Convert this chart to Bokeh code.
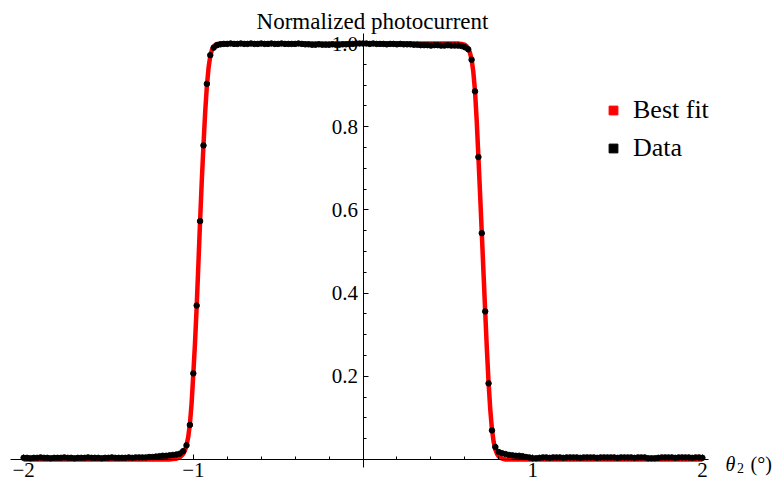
import math
from bokeh.plotting import figure
from bokeh.models import Range1d, LinearAxis, FixedTicker, Label, Legend, LegendItem
from bokeh.embed import file_html
from bokeh.resources import INLINE

# ---------------- data ----------------
angle_deg = [
    -2.00, -1.98, -1.96, -1.94, -1.92, -1.90, -1.88, -1.86, -1.84, -1.82,
    -1.80, -1.78, -1.76, -1.74, -1.72, -1.70, -1.68, -1.66, -1.64, -1.62,
    -1.60, -1.58, -1.56, -1.54, -1.52, -1.50, -1.48, -1.46, -1.44, -1.42,
    -1.40, -1.38, -1.36, -1.34, -1.32, -1.30, -1.28, -1.26, -1.24, -1.22,
    -1.20, -1.18, -1.16, -1.14, -1.12, -1.10, -1.08, -1.06, -1.04, -1.02,
    -1.00, -0.98, -0.96, -0.94, -0.92, -0.90, -0.88, -0.86, -0.84, -0.82,
    -0.80, -0.78, -0.76, -0.74, -0.72, -0.70, -0.68, -0.66, -0.64, -0.62,
    -0.60, -0.58, -0.56, -0.54, -0.52, -0.50, -0.48, -0.46, -0.44, -0.42,
    -0.40, -0.38, -0.36, -0.34, -0.32, -0.30, -0.28, -0.26, -0.24, -0.22,
    -0.20, -0.18, -0.16, -0.14, -0.12, -0.10, -0.08, -0.06, -0.04, -0.02,
    0.00, 0.02, 0.04, 0.06, 0.08, 0.10, 0.12, 0.14, 0.16, 0.18,
    0.20, 0.22, 0.24, 0.26, 0.28, 0.30, 0.32, 0.34, 0.36, 0.38,
    0.40, 0.42, 0.44, 0.46, 0.48, 0.50, 0.52, 0.54, 0.56, 0.58,
    0.60, 0.62, 0.64, 0.66, 0.68, 0.70, 0.72, 0.74, 0.76, 0.78,
    0.80, 0.82, 0.84, 0.86, 0.88, 0.90, 0.92, 0.94, 0.96, 0.98,
    1.00, 1.02, 1.04, 1.06, 1.08, 1.10, 1.12, 1.14, 1.16, 1.18,
    1.20, 1.22, 1.24, 1.26, 1.28, 1.30, 1.32, 1.34, 1.36, 1.38,
    1.40, 1.42, 1.44, 1.46, 1.48, 1.50, 1.52, 1.54, 1.56, 1.58,
    1.60, 1.62, 1.64, 1.66, 1.68, 1.70, 1.72, 1.74, 1.76, 1.78,
    1.80, 1.82, 1.84, 1.86, 1.88, 1.90, 1.92, 1.94, 1.96, 1.98,
    2.00,
]

photocurrent = [
    # -2.00 .. -1.32
    0.004, 0.004, 0.003, 0.004, 0.004, 0.005, 0.004, 0.004, 0.003, 0.004,
    0.004, 0.004, 0.005, 0.004, 0.004, 0.003, 0.004, 0.004, 0.004, 0.005,
    0.004, 0.004, 0.004, 0.003, 0.004, 0.004, 0.005, 0.004, 0.004, 0.004,
    0.004, 0.005, 0.004, 0.005, 0.005,
    # -1.30 .. -0.84
    0.005, 0.005, 0.006, 0.006, 0.007, 0.008, 0.009, 0.009, 0.010, 0.011,
    0.012, 0.014, 0.020, 0.034, 0.083, 0.207, 0.370, 0.573, 0.755, 0.903,
    0.972, 0.990, 0.996, 0.998,
    # -0.82 .. 0.56
    0.999, 0.999, 1.000, 0.999, 0.999, 1.000, 0.999, 0.999, 1.000, 0.999,
    0.999, 1.000, 0.999, 0.999, 1.000, 0.999, 0.999, 1.000, 0.999, 0.999,
    0.999, 0.999, 1.000, 0.999, 0.998, 0.998, 0.997, 0.997, 0.998, 0.997,
    0.997, 0.997, 0.998, 0.997, 0.997, 0.998, 0.998, 0.999, 0.999, 1.000,
    1.000, 1.000, 1.000, 0.999, 1.000, 0.999, 0.999, 0.999, 0.998, 0.999,
    0.999, 0.998, 0.999, 0.998, 0.998, 0.998, 0.997, 0.997, 0.996, 0.996,
    0.996, 0.995, 0.996, 0.996, 0.995, 0.995, 0.996, 0.995, 0.995, 0.995,
    # 0.58 .. 1.04
    0.994, 0.991, 0.986, 0.961, 0.885, 0.727, 0.544, 0.356, 0.183, 0.070,
    0.030, 0.018, 0.015, 0.013, 0.011, 0.010, 0.009, 0.009, 0.008, 0.006,
    0.005, 0.003, 0.003, 0.004,
    # 1.06 .. 2.00
    0.005, 0.005, 0.004, 0.005, 0.005, 0.005, 0.004, 0.005, 0.005, 0.005,
    0.005, 0.004, 0.005, 0.005, 0.005, 0.005, 0.004, 0.005, 0.005, 0.005,
    0.005, 0.005, 0.004, 0.005, 0.005, 0.005, 0.005, 0.004, 0.005, 0.005,
    0.005, 0.003, 0.003, 0.003, 0.004, 0.005, 0.005, 0.005, 0.005, 0.004,
    0.005, 0.005, 0.005, 0.005, 0.004, 0.005, 0.005, 0.004,
]

fit_x = [
    -2.00, -1.14, -1.12, -1.10, -1.08, -1.06, -1.05, -1.04, -1.03, -1.02,
    -1.01, -1.00, -0.99, -0.98, -0.97, -0.96, -0.95, -0.94, -0.93, -0.92,
    -0.91, -0.90, -0.89, -0.88, -0.87, -0.86, -0.84, -0.82, 0.54, 0.56,
    0.58, 0.60, 0.61, 0.62, 0.63, 0.64, 0.65, 0.66, 0.67, 0.68,
    0.69, 0.70, 0.71, 0.72, 0.73, 0.74, 0.75, 0.76, 0.77, 0.78,
    0.79, 0.80, 0.82, 0.84, 2.00,
]
fit_y = [
    0.000, 0.000, 0.001, 0.002, 0.005, 0.013, 0.021, 0.034, 0.054, 0.085,
    0.135, 0.205, 0.280, 0.368, 0.470, 0.573, 0.670, 0.756, 0.835, 0.898,
    0.942, 0.970, 0.985, 0.993, 0.997, 0.999, 1.000, 1.000, 1.000, 1.000,
    0.999, 0.997, 0.994, 0.988, 0.978, 0.962, 0.932, 0.886, 0.815, 0.728,
    0.638, 0.545, 0.450, 0.357, 0.265, 0.185, 0.120, 0.072, 0.042, 0.024,
    0.013, 0.007, 0.002, 0.000, 0.000,
]

x_major = [-2, -1, 1, 2]
x_major_labels = ["\u22122", "\u22121", "1", "2"]
x_minor = [-1.8, -1.6, -1.4, -1.2, -0.8, -0.6, -0.4, -0.2,
           0.2, 0.4, 0.6, 0.8, 1.2, 1.4, 1.6, 1.8]
y_major = [0.2, 0.4, 0.6, 0.8, 1.0]
y_major_labels = ["0.2", "0.4", "0.6", "0.8", "1.0"]
y_minor = [0.05, 0.1, 0.15, 0.25, 0.3, 0.35, 0.45, 0.5, 0.55,
           0.65, 0.7, 0.75, 0.85, 0.9, 0.95]

series_names = ["Best fit", "Data"]
title_text = "Normalized photocurrent"

# ---------------- layout ----------------
W, H = 778, 486
X0_PX, X_SCALE = 362.5, 169.7      # pixel of x=0, pixels per degree
Y0_PX, Y_SCALE = 459.0, 416.0      # pixel of y=0 (from top), pixels per unit
RED = "#ff0000"
AX = "#000000"
FONT = "Liberation Serif"

x_range = Range1d(-X0_PX / X_SCALE, (W - X0_PX) / X_SCALE)
y_range = Range1d(-(H - Y0_PX) / Y_SCALE, Y0_PX / Y_SCALE)

p = figure(width=W, height=H, x_range=x_range, y_range=y_range,
           x_axis_type=None, y_axis_type=None, toolbar_location=None,
           output_backend="svg", min_border=0, outline_line_color=None,
           background_fill_color="white", border_fill_color="white")

# axes crossing at the origin
xaxis = LinearAxis(
    fixed_location=0, bounds=(-2.075, 2.035),
    ticker=FixedTicker(ticks=x_major, minor_ticks=x_minor),
    major_label_overrides=dict(zip(x_major, x_major_labels)),
    axis_line_color=AX, axis_line_width=1,
    major_tick_in=5, major_tick_out=0, minor_tick_in=3, minor_tick_out=0,
    major_tick_line_color=AX, minor_tick_line_color=AX,
    major_label_text_font=FONT, major_label_text_font_size="21px",
    major_label_text_color="black", major_label_standoff=3,
)
p.add_layout(xaxis, "below")

yaxis = LinearAxis(
    fixed_location=0, bounds=(-0.02, 1.024),
    ticker=FixedTicker(ticks=y_major, minor_ticks=y_minor),
    major_label_overrides=dict(zip(y_major, y_major_labels)),
    axis_line_color=AX, axis_line_width=1,
    major_tick_in=5, major_tick_out=0, minor_tick_in=3, minor_tick_out=0,
    major_tick_line_color=AX, minor_tick_line_color=AX,
    major_label_text_font=FONT, major_label_text_font_size="21px",
    major_label_text_color="black", major_label_standoff=5,
)
p.add_layout(yaxis, "left")

# series
p.line(fit_x, fit_y, line_color=RED, line_width=4.5, line_join="round")
p.scatter(angle_deg, photocurrent, size=5.5, fill_color="black", line_color="black", marker="circle")

# legend swatches (square, as in the reference); the renderers hold no visible point
leg_fit = p.scatter(x=[math.nan], y=[math.nan], marker="square", fill_color=RED, line_color=RED)
leg_dat = p.scatter(x=[math.nan], y=[math.nan], marker="square", fill_color="black", line_color="black")
legend = Legend(
    items=[LegendItem(label=series_names[0], renderers=[leg_fit]),
           LegendItem(label=series_names[1], renderers=[leg_dat])],
    location=(602, 323), orientation="vertical",
    glyph_width=22, glyph_height=22, label_standoff=9, spacing=8,
    padding=0, margin=0, border_line_color=None, background_fill_alpha=0,
    label_text_font=FONT, label_text_font_size="26px", label_text_color="black",
)
p.add_layout(legend)

# axis titles
p.add_layout(Label(x=372, y=H - 21, x_units="screen", y_units="screen",
                   text=title_text, text_align="center", text_baseline="alphabetic",
                   text_font=FONT, text_font_size="23px", text_color="black"))
p.add_layout(Label(x=725, y=H - 463, x_units="screen", y_units="screen",
                   text="\u03b8", text_font_style="italic", text_baseline="alphabetic",
                   text_font=FONT, text_font_size="20px", text_color="black"))
p.add_layout(Label(x=736.5, y=H - 467, x_units="screen", y_units="screen",
                   text="2", text_baseline="alphabetic",
                   text_font=FONT, text_font_size="14px", text_color="black"))
p.add_layout(Label(x=750, y=H - 463, x_units="screen", y_units="screen",
                   text="(\u00b0)", text_baseline="alphabetic",
                   text_font=FONT, text_font_size="20px", text_color="black"))

open("out.html", "w").write(file_html(p, INLINE))
